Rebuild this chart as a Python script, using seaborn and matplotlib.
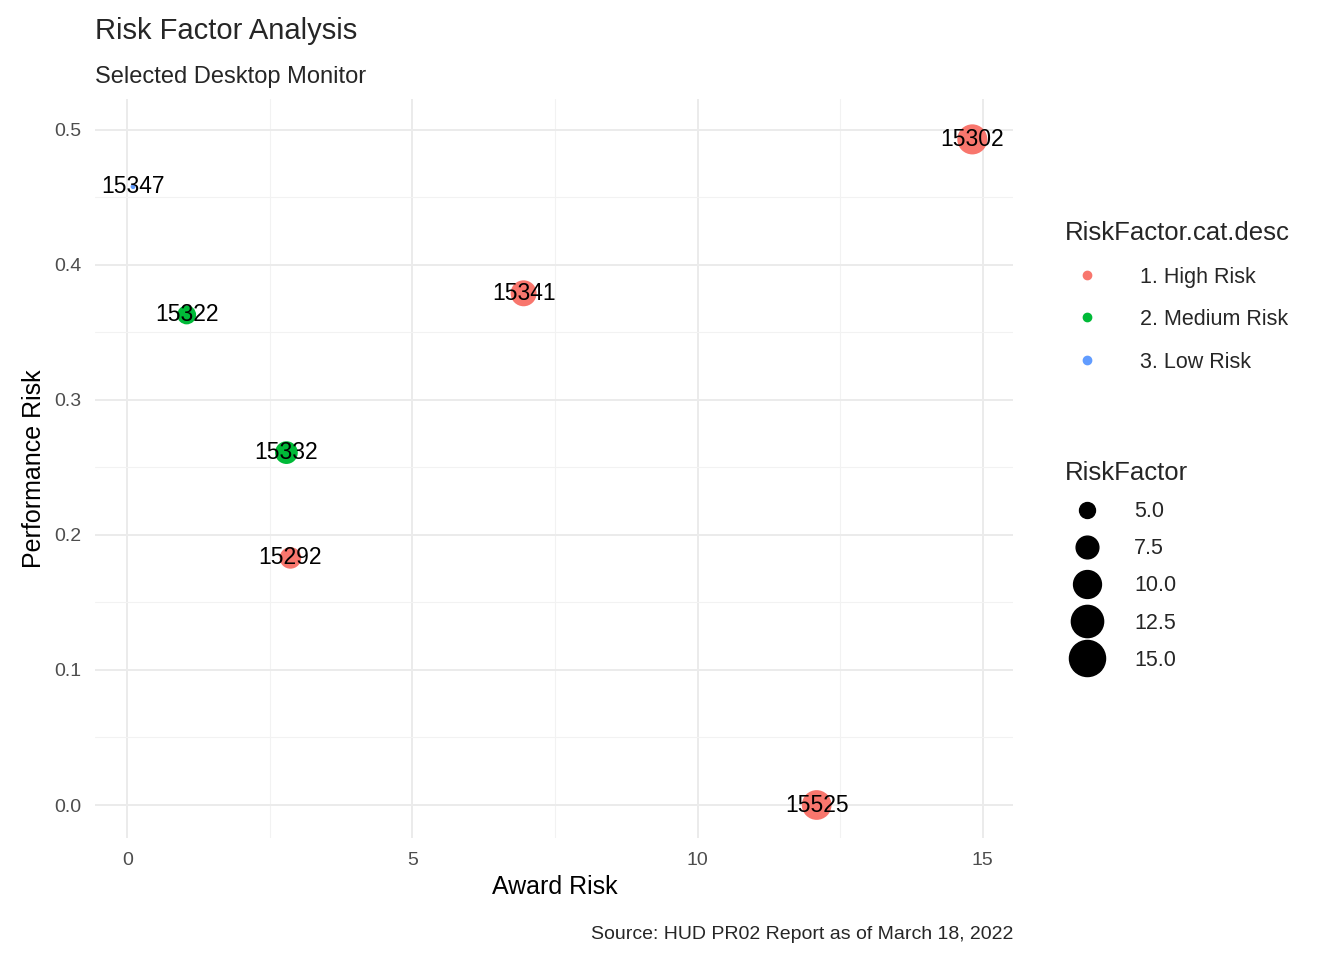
import matplotlib
matplotlib.use("Agg")
import matplotlib.pyplot as plt
from matplotlib.lines import Line2D
import numpy as np
import pandas as pd
import seaborn as sns

sns.set_style("white")
plt.rcParams['font.family'] = ['Liberation Sans', 'DejaVu Sans']

ids = ['15302', '15347', '15322', '15341', '15332', '15292', '15525']
award_risk = [14.82, 0.10, 1.04, 6.95, 2.79, 2.86, 12.09]
perf_risk = [0.493, 0.458, 0.363, 0.379, 0.261, 0.183, 0.000]
categories = ['1. High Risk', '3. Low Risk', '2. Medium Risk', '1. High Risk',
              '2. Medium Risk', '1. High Risk', '1. High Risk']
risk_factor = [11.2, 2.8, 6.0, 9.0, 7.5, 7.0, 11.0]
cat_order = ['1. High Risk', '2. Medium Risk', '3. Low Risk']
palette = {'1. High Risk': '#F8766D', '2. Medium Risk': '#00BA38', '3. Low Risk': '#619CFF'}
size_breaks = [5.0, 7.5, 10.0, 12.5, 15.0]

df = pd.DataFrame({'id': ids, 'Award': award_risk, 'Perf': perf_risk,
                   'cat': categories, 'RiskFactor': risk_factor})

# area linear in value: 5 -> 132 pt^2, 15 -> 675 pt^2
def size_of(v):
    return 132 + (v - 5) * 54.3

vmin, vmax = min(risk_factor), max(risk_factor)

fig = plt.figure(figsize=(13.44, 9.6), dpi=100)
ax = fig.add_axes([0.071, 0.127, 0.683, 0.77])
sns.scatterplot(data=df, x='Award', y='Perf', hue='cat', hue_order=cat_order,
                palette=palette, size='RiskFactor',
                sizes=(size_of(vmin), size_of(vmax)), size_norm=(vmin, vmax),
                legend=False, linewidth=0, ax=ax, zorder=3)
for _, r in df.iterrows():
    ax.text(r['Award'], r['Perf'], r['id'], ha='center', va='center', fontsize=16.5,
            color='black', zorder=4)

ax.set_xlim(-0.56, 15.54)
ax.set_ylim(-0.0245, 0.523)
ax.set_xticks([0, 5, 10, 15])
ax.set_xticks([2.5, 7.5, 12.5], minor=True)
ax.set_yticks(np.arange(0, 0.51, 0.1))
ax.set_yticks(np.arange(0.05, 0.51, 0.1), minor=True)
ax.set_yticklabels([f'{v:.1f}' for v in np.arange(0, 0.51, 0.1)])
ax.grid(which='major', color='#EBEBEB', linewidth=1.4)
ax.grid(which='minor', color='#F2F2F2', linewidth=0.8)
ax.set_axisbelow(True)
for s in ax.spines.values():
    s.set_visible(False)
ax.tick_params(axis='both', which='both', length=0, labelsize=14, colors='#4D4D4D', pad=10)
ax.set_xlabel('Award Risk', fontsize=18, color='black', labelpad=4)
ax.set_ylabel('Performance Risk', fontsize=18, color='black', labelpad=6)

fig.text(0.071, 0.968, 'Risk Factor Analysis', fontsize=21, va='center')
fig.text(0.071, 0.92, 'Selected Desktop Monitor', fontsize=17, va='center')
fig.text(0.754, 0.027, 'Source: HUD PR02 Report as of March 18, 2022', fontsize=14,
         ha='right', va='center')

h1 = [Line2D([], [], marker='o', linestyle='', color=palette[c], markersize=6, label=c)
      for c in cat_order]
fig.legend(handles=h1, title='RiskFactor.cat.desc', loc='upper left',
           bbox_to_anchor=(0.778, 0.79), frameon=False, fontsize=15.5,
           title_fontsize=18.5, labelspacing=1.0, handletextpad=1.5,
           alignment='left')
h2 = [Line2D([], [], marker='o', linestyle='', color='black',
             markersize=np.sqrt(size_of(v)), label=f'{v:.1f}') for v in size_breaks]
fig.legend(handles=h2, title='RiskFactor', loc='upper left',
           bbox_to_anchor=(0.778, 0.54), frameon=False, fontsize=15.5,
           title_fontsize=18.5, labelspacing=0.75, handletextpad=1.2,
           alignment='left')

fig.savefig('out.png', dpi=100)
